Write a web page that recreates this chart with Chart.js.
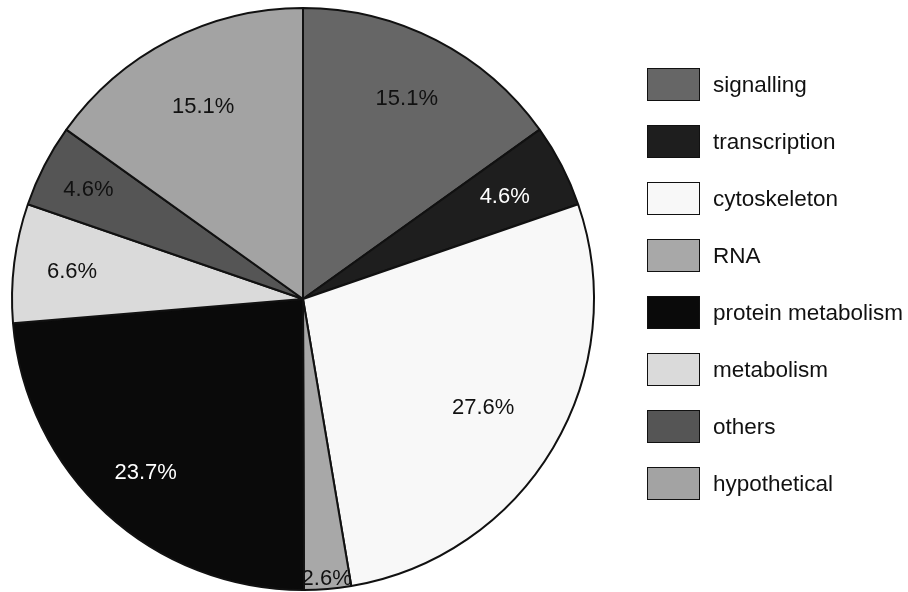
<!DOCTYPE html>
<html>
<head>
    <style>
        body, html {
            margin: 0;
            width: 908px;
            height: 592px;
            background: white;
            overflow: hidden;
            font-family: "Liberation Sans", Arial, sans-serif;
        }
        #container {
            position: relative;
            width: 908px;
            height: 592px;
        }
        #pieChart {
            position: absolute;
            left: 0;
            top: 0;
        }
        #legend {
            position: absolute;
            left: 647px;
            top: 68px;
        }
        .item {
            position: absolute;
            left: 0;
            height: 34px;
            white-space: nowrap;
        }
        .box {
            position: absolute;
            left: 0;
            top: 0;
            width: 51px;
            height: 31px;
            border: 1.5px solid #111;
        }
        .text {
            position: absolute;
            left: 66px;
            top: 4px;
            font-size: 22.5px;
            line-height: 26px;
            color: #111;
        }
    </style>
    <script src="https://cdn.jsdelivr.net/npm/chart.js"></script>
</head>
<body>
    <div id="container">
        <canvas id="pieChart" width="908" height="592"></canvas>
        <div id="legend"></div>
    </div>

    <script>
        // data
        const categories = ["signalling", "transcription", "cytoskeleton", "RNA", "protein metabolism", "metabolism", "others", "hypothetical"];
        const percentages = [15.1, 4.6, 27.6, 2.6, 23.7, 6.6, 4.6, 15.1];
        const sliceColors = ['#666666', '#1e1e1e', '#f8f8f8', '#a8a8a8', '#0a0a0a', '#dadada', '#555555', '#a3a3a3'];
        const labelColors = ['#111', '#fff', '#111', '#111', '#fff', '#111', '#111', '#111'];
        const labelRadius = [0.78, 0.78, 0.72, 0.96, 0.80, 0.80, 0.83, 0.75];

        // draws the percentage text inside each slice
        const sliceLabels = {
            id: 'sliceLabels',
            afterDatasetsDraw(chart) {
                const ctx = chart.ctx;
                const meta = chart.getDatasetMeta(0);
                ctx.save();
                ctx.font = '22px "Liberation Sans", Arial, sans-serif';
                ctx.textAlign = 'center';
                ctx.textBaseline = 'middle';
                meta.data.forEach((arc, i) => {
                    const p = arc.getProps(['x', 'y', 'startAngle', 'endAngle', 'outerRadius'], true);
                    const mid = (p.startAngle + p.endAngle) / 2;
                    const r = p.outerRadius * labelRadius[i];
                    ctx.fillStyle = labelColors[i];
                    ctx.fillText(percentages[i].toFixed(1) + '%', p.x + Math.cos(mid) * r, p.y + Math.sin(mid) * r + 2);
                });
                ctx.restore();
            }
        };

        const pieCtx = document.getElementById("pieChart").getContext("2d");
        const pieChart = new Chart(pieCtx, {
            type: 'pie',
            data: {
                labels: categories,
                datasets: [{
                    data: percentages,
                    backgroundColor: sliceColors,
                    borderColor: '#111',
                    borderWidth: 2,
                }]
            },
            options: {
                responsive: false,
                animation: false,
                layout: {
                    padding: { left: 10, right: 312, top: 7, bottom: 1 }
                },
                plugins: {
                    legend: { display: false },
                    tooltip: { enabled: false }
                }
            },
            plugins: [sliceLabels]
        });

        // legend on the right
        const legendEl = document.getElementById("legend");
        categories.forEach((name, i) => {
            const item = document.createElement("div");
            item.className = "item";
            item.style.top = (i * 57) + "px";
            item.innerHTML = '<div class="box" style="background:' + sliceColors[i] + '"></div><div class="text">' + name + '</div>';
            legendEl.appendChild(item);
        });
    </script>
</body>
</html>
